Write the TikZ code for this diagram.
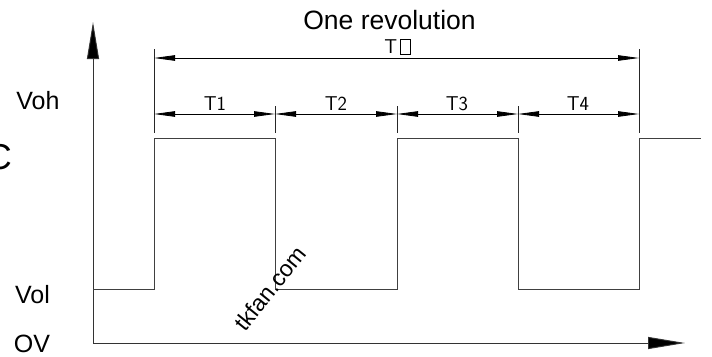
\documentclass[tikz,border=0pt]{standalone}
\usepackage{fontspec}
\setmainfont{Liberation Sans}
\usetikzlibrary{arrows.meta}
\newcommand{\tofubox}{{\setlength\fboxsep{0pt}\setlength\fboxrule{0.6pt}\fbox{\rule{0pt}{14pt}\hspace{9pt}}}}
\begin{document}
\begin{tikzpicture}[x=1pt,y=-1pt,
  sig/.style={line width=0.9pt, draw=black!75},
  ext/.style={line width=0.8pt, draw=black!85},
  dimline/.style={line width=0.8pt, draw=black,
    {Triangle[length=21pt,width=5.5pt]}-{Triangle[length=21pt,width=5.5pt]}},
  axisline/.style={line width=0.9pt, draw=black!80, -{Triangle[length=37pt,width=12pt,fill=black]}},
  lbl/.style={font=\fontsize{25}{29}\selectfont, inner sep=0pt},
  tlbl/.style={font=\sffamily\fontsize{20}{24}\selectfont, inner sep=0pt},
]
\useasboundingbox (0,0) rectangle (712,356);
% axes
\coordinate (O) at (93,343);
\coordinate (Ytop) at (93,22);
\coordinate (Xend) at (685,343);
\draw[axisline] (O) -- (Ytop);
\draw[axisline] (O) -- (Xend);
% signal
\draw[sig] (93,289) -- (154,289) -- (154,138) -- (275,138) -- (275,289)
  -- (397,289) -- (397,138) -- (518,138) -- (518,289) -- (639,289)
  -- (639,138) -- (701,138);
% extension lines
\draw[ext] (154,49) -- (154,133);
\draw[ext] (639,49) -- (639,133);
\draw[ext] (275,106) -- (275,133);
\draw[ext] (397,106) -- (397,133);
\draw[ext] (518,106) -- (518,133);
% dimension lines
\coordinate (a0) at (154,58);
\coordinate (b0) at (639,58);
\coordinate (p1) at (154,114);
\coordinate (p2) at (275,114);
\coordinate (p3) at (397,114);
\coordinate (p4) at (518,114);
\coordinate (p5) at (639,114);
\draw[dimline] (a0) -- (b0);
\draw[dimline] (p1) -- (p2);
\draw[dimline] (p2) -- (p3);
\draw[dimline] (p3) -- (p4);
\draw[dimline] (p4) -- (p5);
% labels
\node[lbl, font=\fontsize{26.5}{30}\selectfont] (rev) at (389.5,20.5) {One revolution};
\node[tlbl] (t0) at (397.5,46.5) {T\hspace{3pt}\raisebox{-0.5pt}{\tofubox}};
\node[tlbl] (t1) at (215,104) {T1};
\node[tlbl] (t2) at (336,104) {T2};
\node[tlbl] (t3) at (457,104) {T3};
\node[tlbl] (t4) at (578,104) {T4};
\node[lbl] (voh) at (38,101) {Voh};
\node[lbl] (vol) at (32.5,295) {Vol};
\node[lbl] (ov) at (32,343.5) {OV};
\node[inner sep=0pt, anchor=east, font=\fontsize{36}{40}\selectfont] (c) at (12,157) {C};
\node[inner sep=0pt, rotate=51, font=\fontsize{23}{27}\selectfont] (wm) at (270,288.5) {tkfan.com};
\end{tikzpicture}
\end{document}
